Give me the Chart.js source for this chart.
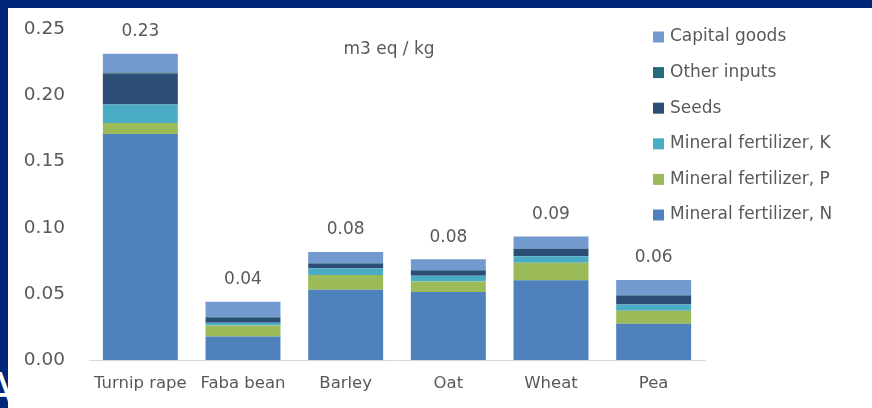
<!DOCTYPE html>
<html>
<head>
<meta charset="utf-8">
<script src="https://cdn.jsdelivr.net/npm/chart.js@4"></script>
<style>
  html, body { margin: 0; padding: 0; }
  body { width: 872px; height: 408px; background: #002677; position: relative; overflow: hidden; }
  #frame { position: absolute; left: 8px; top: 8px; width: 864px; height: 400px; background: #fff; }
  #edge { position: absolute; left: -16px; top: 368px; color: #fff; font: 44px/44px "DejaVu Sans", sans-serif; }
</style>
</head>
<body>
<span id="edge">A</span>
<div id="frame"><canvas id="bar-chart" width="864" height="400"></canvas></div>
<script>
// crops along the x axis
const crops = ["Turnip rape", "Faba bean", "Barley", "Oat", "Wheat", "Pea"];

// contributions per input, m3 eq / kg (bottom of the stack first)
const fertN   = [0.1707, 0.0178, 0.0532, 0.0514, 0.0604, 0.0276];
const fertP   = [0.0083, 0.0083, 0.0112, 0.0080, 0.0131, 0.0098];
const fertK   = [0.0140, 0.0022, 0.0051, 0.0043, 0.0050, 0.0047];
const seeds   = [0.0235, 0.0038, 0.0032, 0.0038, 0.0054, 0.0063];
const other   = [0.0006, 0.0007, 0.0005, 0.0005, 0.0005, 0.0006];
const capital = [0.0143, 0.0113, 0.0085, 0.0082, 0.0090, 0.0115];

const yTicks = [0, 0.05, 0.10, 0.15, 0.20, 0.25];

const textGrey = "#595959";
const fontFamily = "'DejaVu Sans', sans-serif";

// totals above each bar
const totalsPlugin = {
  id: 'totals',
  afterDatasetsDraw(chart) {
    const ctx = chart.ctx;
    const yScale = chart.scales.y;
    const xScale = chart.scales.x;
    ctx.save();
    ctx.fillStyle = textGrey;
    ctx.font = "17px " + fontFamily;
    ctx.textAlign = "center";
    ctx.textBaseline = "middle";
    crops.forEach((c, i) => {
      let total = 0;
      chart.data.datasets.forEach(ds => { total += ds.data[i]; });
      const x = xScale.getPixelForValue(i);
      const y = yScale.getPixelForValue(total);
      ctx.fillText(total.toFixed(2), x, y - 22);
    });
    ctx.restore();
  }
};

// unit note and legend laid over the plot, top to bottom
const overlayPlugin = {
  id: 'overlay',
  afterDraw(chart) {
    const ctx = chart.ctx;
    const area = chart.chartArea;
    ctx.save();
    ctx.fillStyle = textGrey;
    ctx.font = "17px " + fontFamily;
    ctx.textAlign = "center";
    ctx.textBaseline = "middle";
    ctx.fillText("m3 eq / kg", 381, 42);

    ctx.textAlign = "left";
    const items = chart.data.datasets.slice().reverse();
    items.forEach((ds, k) => {
      const y = 29 + k * 35.6;
      ctx.fillStyle = ds.backgroundColor;
      ctx.fillRect(area.right - 52, y - 5.5, 11, 11);
      ctx.fillStyle = textGrey;
      ctx.fillText(ds.label, area.right - 35, y);
    });
    ctx.restore();
  }
};

var ctx = document.getElementById("bar-chart");
var barChart = new Chart(ctx, {
  type: 'bar',
  data: {
    labels: crops,
    datasets: [
      { label: 'Mineral fertilizer, N', data: fertN,   backgroundColor: "#4F81BD" },
      { label: 'Mineral fertilizer, P', data: fertP,   backgroundColor: "#9BBB59" },
      { label: 'Mineral fertilizer, K', data: fertK,   backgroundColor: "#4BACC6" },
      { label: 'Seeds',                 data: seeds,   backgroundColor: "#2C4D75" },
      { label: 'Other inputs',          data: other,   backgroundColor: "#276A7C" },
      { label: 'Capital goods',         data: capital, backgroundColor: "#729ACF" }
    ]
  },
  options: {
    responsive: false,
    animation: false,
    layout: {
      padding: { top: 21, right: 167, bottom: 0, left: 0 }
    },
    datasets: {
      bar: { categoryPercentage: 1, barPercentage: 0.73, borderWidth: 0 }
    },
    plugins: {
      legend: { display: false },
      tooltip: { enabled: false }
    },
    scales: {
      x: {
        stacked: true,
        grid: { display: false, drawTicks: false },
        border: { display: true, color: "#D9D9D9", width: 1 },
        ticks: {
          color: textGrey,
          font: { size: 16.5, family: fontFamily },
          padding: 14,
          maxRotation: 0,
          minRotation: 0,
          autoSkip: false
        }
      },
      y: {
        stacked: true,
        min: 0,
        max: 0.25,
        grid: { display: false, drawTicks: false },
        border: { display: false },
        afterBuildTicks(scale) {
          scale.ticks = yTicks.map(v => ({ value: v }));
        },
        afterFit(scale) {
          scale.width = 81;
          scale.paddingTop = 0;
          scale.paddingBottom = 0;
        },
        ticks: {
          color: textGrey,
          font: { size: 18.5, family: fontFamily },
          padding: 24,
          callback: v => v.toFixed(2)
        }
      }
    }
  },
  plugins: [totalsPlugin, overlayPlugin]
});
</script>
</body>
</html>
